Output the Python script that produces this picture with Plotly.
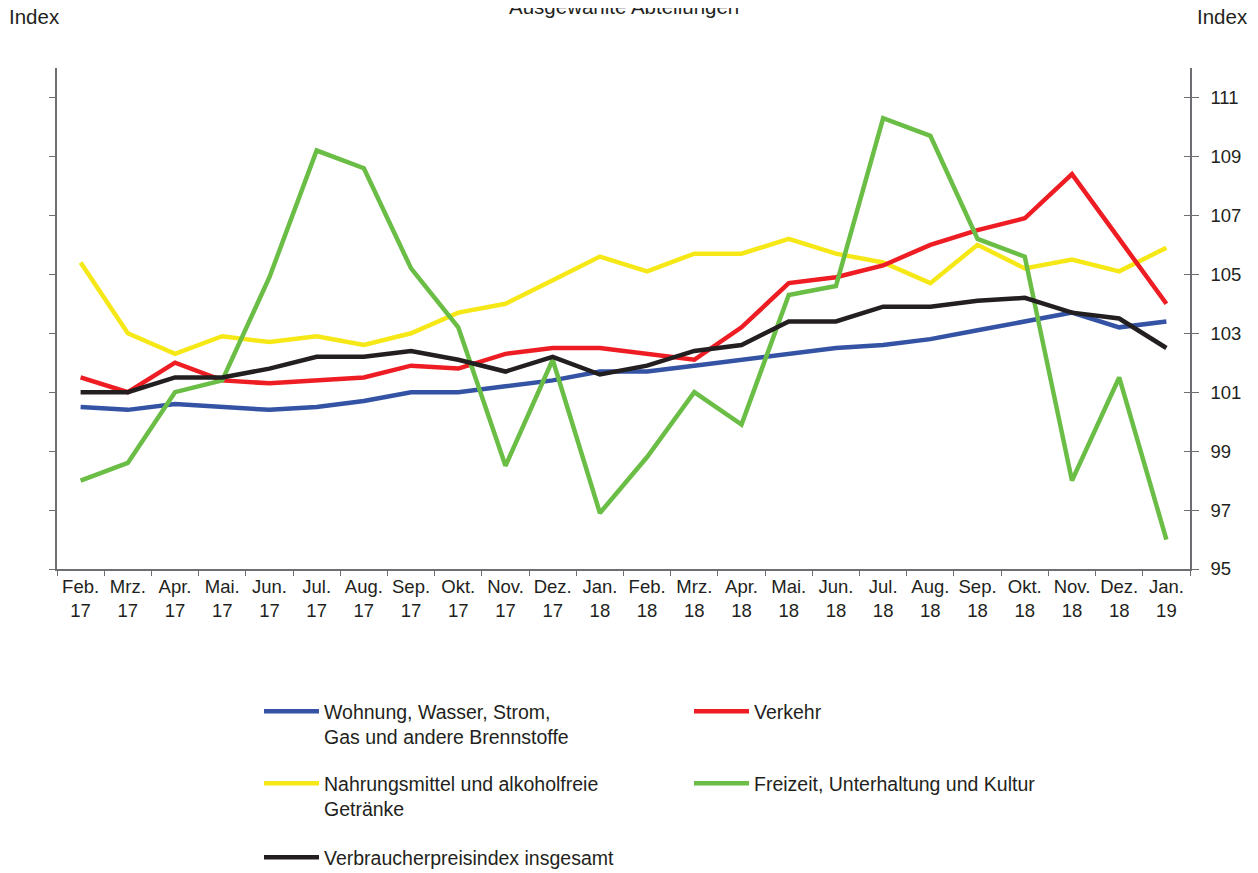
import plotly.graph_objects as go

months = ["Feb.<br>17", "Mrz.<br>17", "Apr.<br>17", "Mai.<br>17", "Jun.<br>17", "Jul.<br>17",
          "Aug.<br>17", "Sep.<br>17", "Okt.<br>17", "Nov.<br>17", "Dez.<br>17", "Jan.<br>18",
          "Feb.<br>18", "Mrz.<br>18", "Apr.<br>18", "Mai.<br>18", "Jun.<br>18", "Jul.<br>18",
          "Aug.<br>18", "Sep.<br>18", "Okt.<br>18", "Nov.<br>18", "Dez.<br>18", "Jan.<br>19"]

wohnung = [100.5, 100.4, 100.6, 100.5, 100.4, 100.5, 100.7, 101.0, 101.0, 101.2, 101.4, 101.7,
           101.7, 101.9, 102.1, 102.3, 102.5, 102.6, 102.8, 103.1, 103.4, 103.7, 103.2, 103.4]
verkehr = [101.5, 101.0, 102.0, 101.4, 101.3, 101.4, 101.5, 101.9, 101.8, 102.3, 102.5, 102.5,
           102.3, 102.1, 103.2, 104.7, 104.9, 105.3, 106.0, 106.5, 106.9, 108.4, 106.2, 104.0]
nahrung = [105.4, 103.0, 102.3, 102.9, 102.7, 102.9, 102.6, 103.0, 103.7, 104.0, 104.8, 105.6,
           105.1, 105.7, 105.7, 106.2, 105.7, 105.4, 104.7, 106.0, 105.2, 105.5, 105.1, 105.9]
freizeit = [98.0, 98.6, 101.0, 101.4, 104.9, 109.2, 108.6, 105.2, 103.2, 98.5, 102.1, 96.9,
            98.8, 101.0, 99.9, 104.3, 104.6, 110.3, 109.7, 106.2, 105.6, 98.0, 101.5, 96.0]
gesamt = [101.0, 101.0, 101.5, 101.5, 101.8, 102.2, 102.2, 102.4, 102.1, 101.7, 102.2, 101.6,
          101.9, 102.4, 102.6, 103.4, 103.4, 103.9, 103.9, 104.1, 104.2, 103.7, 103.5, 102.5]

y_ticks = [95, 97, 99, 101, 103, 105, 107, 109, 111]

FONT = "Liberation Sans, Arial, sans-serif"
TXT = "#231F20"
AX = "#6D6E71"
FS = 18.5      # tick labels
FS_LEG = 19.5  # legend
FS_TOP = 20.5  # "Index" labels and title

# the page has an 8px body margin, so the figure is sized to end at the window edge
OFF = 8
W, H = 1258 - OFF, 873 - OFF
ML, MR, MT, MB = 57 - OFF, 68, 68 - OFF, 304
PW, PH = W - ML - MR, H - MT - MB


def px_x(p):
    return (p - OFF - ML) / PW


def px_y(p):
    return (H - MB - (p - OFF)) / PH


series = [
    ("Wohnung, Wasser, Strom,<br>Gas und andere Brennstoffe", wohnung, "#3553A5", "legend", 265, 692),
    ("Verkehr", verkehr, "#EE1D23", "legend2", 695, 692),
    ("Nahrungsmittel und alkoholfreie<br>Getränke", nahrung, "#F6E817", "legend3", 265, 764),
    ("Freizeit, Unterhaltung und Kultur", freizeit, "#6ABD45", "legend4", 695, 764),
    ("Verbraucherpreisindex insgesamt", gesamt, "#231F20", "legend5", 265, 838),
]

draw_order = [2, 0, 1, 3, 4]

fig = go.Figure()
for i in draw_order:
    name, vals, col, leg, lx, ly = series[i]
    fig.add_trace(go.Scatter(
        x=months, y=vals, mode="lines", name=name,
        line=dict(color=col, width=4.5),
        legend=leg, hoverinfo="skip",
    ))

# invisible helper traces so the right-hand axes are drawn
fig.add_trace(go.Scatter(x=months, y=gesamt, yaxis="y2", mode="lines",
                         line=dict(width=0), opacity=0, showlegend=False, hoverinfo="skip"))
fig.add_trace(go.Scatter(x=months, y=gesamt, yaxis="y3", mode="lines",
                         line=dict(width=0), opacity=0, showlegend=False, hoverinfo="skip"))

legends = {}
for name, vals, col, leg, lx, ly in series:
    legends[leg] = dict(
        x=px_x(lx - 6), y=px_y(ly), xanchor="left", yanchor="top",
        bgcolor="rgba(0,0,0,0)", borderwidth=0,
        font=dict(family=FONT, size=FS_LEG, color=TXT),
        itemwidth=55, valign="top", tracegroupgap=0,
    )

fig.update_layout(
    width=W, height=H,
    margin=dict(l=ML, r=MR, t=MT, b=MB, pad=0, autoexpand=False),
    paper_bgcolor="white", plot_bgcolor="white",
    font=dict(family=FONT, size=FS, color=TXT),
    xaxis=dict(
        type="category", range=[-0.5, 23.5],
        tickson="boundaries", ticks="outside", ticklen=5, tickwidth=1.2, tickcolor=AX,
        showline=True, linecolor=AX, linewidth=1.5,
        showgrid=False, zeroline=False,
        tickfont=dict(family=FONT, size=FS, color=TXT),
        tickangle=0, automargin=False,
    ),
    yaxis=dict(
        range=[95, 112], tickvals=y_ticks, showticklabels=False,
        ticks="outside", ticklen=6, tickwidth=1.2, tickcolor=AX,
        showline=True, linecolor=AX, linewidth=1.5,
        showgrid=False, zeroline=False, automargin=False,
    ),
    yaxis2=dict(
        range=[95, 112], tickvals=y_ticks, overlaying="y", side="right",
        ticks="outside", ticklen=7, tickwidth=1.2, tickcolor=AX,
        showline=True, linecolor=AX, linewidth=1.5,
        showgrid=False, zeroline=False, ticklabelstandoff=8,
        tickfont=dict(family=FONT, size=FS, color=TXT), automargin=False,
    ),
    yaxis3=dict(
        range=[95, 112], tickvals=y_ticks, overlaying="y", side="right",
        ticks="inside", ticklen=6, tickwidth=1.2, tickcolor=AX,
        showline=False, showticklabels=False,
        showgrid=False, zeroline=False, automargin=False,
    ),
    showlegend=True,
    **legends,
)

fig.add_annotation(text="Ausgewählte Abteilungen", xref="paper", yref="paper",
                   x=px_x(624), y=px_y(6), xanchor="center", yanchor="middle",
                   showarrow=False, font=dict(family=FONT, size=FS_TOP, color=TXT))
fig.add_annotation(text="Index", xref="paper", yref="paper",
                   x=px_x(7), y=px_y(17), xanchor="left", yanchor="middle",
                   showarrow=False, font=dict(family=FONT, size=FS_TOP, color=TXT))
fig.add_annotation(text="Index", xref="paper", yref="paper",
                   x=px_x(1195), y=px_y(17), xanchor="left", yanchor="middle",
                   showarrow=False, font=dict(family=FONT, size=FS_TOP, color=TXT))

fig.write_html("out.html")
